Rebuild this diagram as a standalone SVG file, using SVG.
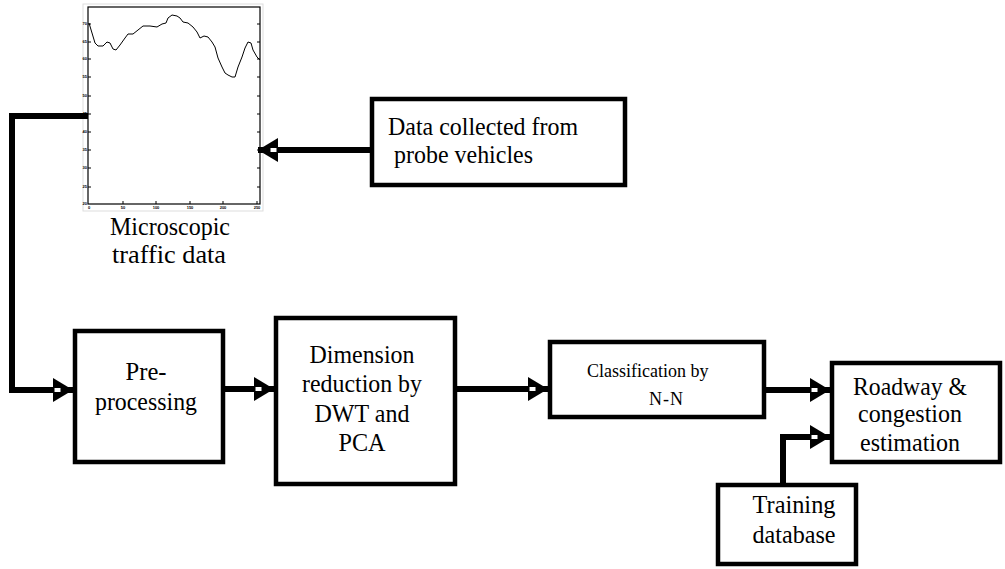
<svg xmlns="http://www.w3.org/2000/svg" width="1005" height="569" viewBox="0 0 1005 569">
<defs>
<style>
.box{fill:#fff;stroke:#000;stroke-width:4.5}
.conn{fill:none;stroke:#000;stroke-width:6}
.tick{stroke:#000;stroke-width:1}
</style>
<marker id="arr" markerUnits="userSpaceOnUse" viewBox="0 0 20 24" markerWidth="20" markerHeight="24" refX="20" refY="12" orient="auto">
<path d="M0,0 L20,12 L0,24 Z" fill="#000"/>
<rect x="1.5" y="10" width="6" height="4" fill="#fff"/>
</marker>
</defs>
<rect width="1005" height="569" fill="#fff"/>

<g id="plot">
<rect x="83" y="4" width="180" height="207" fill="#fff" stroke="#ddd" stroke-width="1"/>
<rect x="88" y="7" width="172" height="197" fill="#fff" stroke="#000" stroke-width="1.2"/>
<g class="tick">
<path d="M88,24h3M88,42h3M88,59h3M88,77h3M88,96h3M88,114h3M88,132h3M88,150h3M88,168h3M88,187h3"/>
<path d="M260,24h-3M260,42h-3M260,59h-3M260,77h-3M260,96h-3M260,114h-3M260,132h-3M260,150h-3M260,168h-3M260,187h-3"/>
<path d="M123,204v-3M156,204v-3M190,204v-3M223,204v-3M257,204v-3"/>
</g>
<g text-anchor="end">
<text x="87" y="25" font-family="Liberation Sans" font-size="4" font-weight="bold">70</text><text x="87" y="43" font-family="Liberation Sans" font-size="4" font-weight="bold">65</text><text x="87" y="60" font-family="Liberation Sans" font-size="4" font-weight="bold">60</text><text x="87" y="78" font-family="Liberation Sans" font-size="4" font-weight="bold">55</text><text x="87" y="97" font-family="Liberation Sans" font-size="4" font-weight="bold">50</text><text x="87" y="115" font-family="Liberation Sans" font-size="4" font-weight="bold">45</text><text x="87" y="133" font-family="Liberation Sans" font-size="4" font-weight="bold">40</text><text x="87" y="151" font-family="Liberation Sans" font-size="4" font-weight="bold">35</text><text x="87" y="169" font-family="Liberation Sans" font-size="4" font-weight="bold">30</text><text x="87" y="188" font-family="Liberation Sans" font-size="4" font-weight="bold">25</text><text x="87" y="205" font-family="Liberation Sans" font-size="4" font-weight="bold">20</text>
</g>
<g text-anchor="middle">
<text x="89" y="209" font-family="Liberation Sans" font-size="4" font-weight="bold">0</text><text x="123" y="209" font-family="Liberation Sans" font-size="4" font-weight="bold">50</text><text x="156" y="209" font-family="Liberation Sans" font-size="4" font-weight="bold">100</text><text x="190" y="209" font-family="Liberation Sans" font-size="4" font-weight="bold">150</text><text x="223" y="209" font-family="Liberation Sans" font-size="4" font-weight="bold">200</text><text x="257" y="209" font-family="Liberation Sans" font-size="4" font-weight="bold">250</text>
</g>
<polyline fill="none" stroke="#000" stroke-width="1" points="89,23 92,33 95,43 98,46 103,46 107,42 110,43 113,49 116,50 120,45 125,38 128,34 133,34 138,30 143,26 150,26 157,27 162,24 166,23 168,18 172,15 177,16 180,18 183,22 188,23 193,27 197,32 200,38 204,36 208,37 212,42 215,47 218,58 222,67 225,73 228,75 232,77 235,77 238,67 242,57 245,48 248,42 251,43 253,50 257,57 260,60"/>
<text x="170" y="235" text-anchor="middle" font-family="Liberation Serif" font-size="26" textLength="120" lengthAdjust="spacingAndGlyphs">Microscopic</text>
<text x="169" y="263" text-anchor="middle" font-family="Liberation Serif" font-size="26" textLength="114" lengthAdjust="spacingAndGlyphs">traffic data</text>
</g>

<g id="probe">
<rect class="box" x="372" y="99" width="253" height="86"/>
<text x="388" y="135" font-family="Liberation Serif" font-size="26" textLength="190" lengthAdjust="spacingAndGlyphs">Data collected from</text>
<text x="394" y="163" font-family="Liberation Serif" font-size="26" textLength="139" lengthAdjust="spacingAndGlyphs">probe vehicles</text>
</g>

<g id="preprocessing">
<rect class="box" x="75" y="331" width="148" height="131"/>
<text x="146" y="380" text-anchor="middle" font-family="Liberation Serif" font-size="26" textLength="41" lengthAdjust="spacingAndGlyphs">Pre-</text>
<text x="146" y="410" text-anchor="middle" font-family="Liberation Serif" font-size="26" textLength="102" lengthAdjust="spacingAndGlyphs">processing</text>
</g>

<g id="dimension">
<rect class="box" x="276" y="318" width="179" height="166"/>
<text x="362" y="363" text-anchor="middle" font-family="Liberation Serif" font-size="26" textLength="105" lengthAdjust="spacingAndGlyphs">Dimension</text>
<text x="362" y="392" text-anchor="middle" font-family="Liberation Serif" font-size="26" textLength="120" lengthAdjust="spacingAndGlyphs">reduction by</text>
<text x="362" y="422" text-anchor="middle" font-family="Liberation Serif" font-size="26" textLength="95" lengthAdjust="spacingAndGlyphs">DWT and</text>
<text x="362" y="451" text-anchor="middle" font-family="Liberation Serif" font-size="26" textLength="47" lengthAdjust="spacingAndGlyphs">PCA</text>
</g>

<g id="classification">
<rect class="box" x="550" y="342" width="214" height="75"/>
<text x="587" y="377" font-family="Liberation Serif" font-size="18">Classification by</text>
<text x="649" y="405" font-family="Liberation Serif" font-size="18" letter-spacing="1">N-N</text>
</g>

<g id="roadway">
<rect class="box" x="832" y="363" width="168" height="99"/>
<text x="910" y="395" text-anchor="middle" font-family="Liberation Serif" font-size="26" textLength="114" lengthAdjust="spacingAndGlyphs">Roadway &amp;</text>
<text x="910" y="422" text-anchor="middle" font-family="Liberation Serif" font-size="26" textLength="104" lengthAdjust="spacingAndGlyphs">congestion</text>
<text x="910" y="451" text-anchor="middle" font-family="Liberation Serif" font-size="26" textLength="100" lengthAdjust="spacingAndGlyphs">estimation</text>
</g>

<g id="training">
<rect class="box" x="718" y="485" width="138" height="79"/>
<text x="794" y="513" text-anchor="middle" font-family="Liberation Serif" font-size="26" textLength="83" lengthAdjust="spacingAndGlyphs">Training</text>
<text x="794" y="543" text-anchor="middle" font-family="Liberation Serif" font-size="26" textLength="83" lengthAdjust="spacingAndGlyphs">database</text>
</g>

<g id="connectors">
<path class="conn" d="M88,116 H12 V390 H73" marker-end="url(#arr)" stroke-width="5.5" stroke-linejoin="miter"/>
<path class="conn" d="M372,150 H258" marker-end="url(#arr)"/>
<path class="conn" d="M225,389 H274" marker-end="url(#arr)"/>
<path class="conn" d="M457,389 H548" marker-end="url(#arr)"/>
<path class="conn" d="M766,390 H830" marker-end="url(#arr)"/>
<path class="conn" d="M783,483 V437 H830" marker-end="url(#arr)"/>
</g>
</svg>
